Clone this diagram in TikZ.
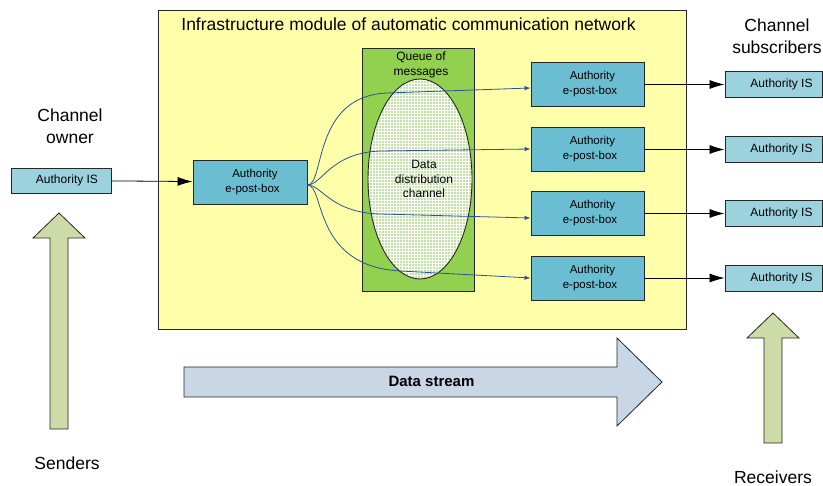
\documentclass[tikz,border=0pt]{standalone}
\usepackage{fontspec}
\setmainfont{Liberation Sans}
\usetikzlibrary{arrows.meta,shapes.geometric}

\definecolor{moduleyellow}{HTML}{FFFFAA}
\definecolor{queuegreen}{HTML}{92D050}
\definecolor{cellgreen}{HTML}{C4E2A6}
\definecolor{postblue}{HTML}{6BBED2}
\definecolor{isblue}{HTML}{9CD2DE}
\definecolor{streamblue}{HTML}{C8D6E6}
\definecolor{handgreen}{HTML}{CCDBA8}
\definecolor{flowblue}{HTML}{2A5590}
\definecolor{edgegray}{HTML}{262626}

\tikzset{
  bigtext/.style={font=\fontsize{17.5}{22}\selectfont, align=center, inner sep=0pt},
  postbox/.style={draw=edgegray, line width=0.9pt, fill=postblue,
    minimum width=113pt, minimum height=44pt, inner sep=0pt, align=center,
    font=\fontsize{11.5}{15}\selectfont},
  isbox/.style={draw=edgegray, line width=0.9pt, fill=isblue,
    minimum width=97pt, minimum height=26pt, inner sep=0pt,
    font=\fontsize{12}{14}\selectfont},
  feed/.style={draw=black, line width=0.8pt, -{Latex[length=15pt,width=9pt]}},
  flow/.style={draw=flowblue, line width=0.8pt, -{Latex[length=6pt,width=4.5pt]}},
  bigarrow/.style={draw=edgegray, line width=0.8pt, line join=miter},
}

\begin{document}
\begin{tikzpicture}[x=1pt,y=-1pt]
\useasboundingbox (0,0) rectangle (823,486);

% infrastructure module
\node[draw=edgegray, line width=0.9pt, fill=moduleyellow, minimum width=528pt,
      minimum height=319pt, inner sep=0pt] (module) at (422,169.5) {};
\node[bigtext] (title) at (408.5,24) {Infrastructure module of automatic communication network};

% queue of messages with the distribution channel
\node[draw=edgegray, line width=0.9pt, fill=queuegreen, minimum width=112pt,
      minimum height=243pt, inner sep=0pt] (queue) at (418,169.5) {};
\node[font=\fontsize{12}{15}\selectfont, align=center, inner sep=0pt] (qlabel) at (421,64.5) {Queue of\\messages};
\node[ellipse, draw=edgegray, line width=0.9pt, minimum width=104pt, minimum height=200pt,
      inner sep=0pt,
      path picture={
        \fill[cellgreen] (path picture bounding box.south west) rectangle (path picture bounding box.north east);
        \draw[white, line width=0.6pt, step=3pt] (path picture bounding box.south west) grid (path picture bounding box.north east);
      }] (channel) at (420,179) {};
\node[font=\fontsize{12}{14.5}\selectfont, align=center, inner sep=0pt] (chtext) at (424,179) {Data\\distribution\\channel};

% sender side
\node[bigtext] (owner) at (70,126) {Channel\\owner};
\node[isbox, minimum width=100pt, minimum height=25pt] (srcis) at (61,180.5) {\hspace*{12pt}Authority IS};
\node[postbox, minimum width=114pt] (srcbox) at (250,182) {\hspace*{10pt}Authority\\\hspace*{5pt}e-post-box};
\draw[feed] (srcis) -- (srcbox);

% receiver boxes inside the module
\foreach \i/\y in {1/84.5, 2/149.5, 3/213.5, 4/278} {
  \node[postbox] (dst\i) at (587.5,\y) {\hspace*{10pt}Authority\\\hspace*{5pt}e-post-box};
  \node[isbox] (dstis\i) at (773.5,\y) {\hspace*{16pt}Authority IS};
  \draw[feed] (dst\i) -- (dstis\i);
}
\node[bigtext] (subs) at (777,36) {Channel\\subscribers};

% distribution of messages through the channel
\coordinate (fan) at ([yshift=-3pt]srcbox.east);
\draw[flow] (fan) .. controls (325,185) and (312,96) .. (387,93) -- ([yshift=-3.5pt]dst1.west);
\draw[flow] (fan) .. controls (322,185) and (330,153) .. (380,151) -- ([yshift=0.5pt]dst2.west);
\draw[flow] (fan) .. controls (322,185) and (330,212.5) .. (380,214) -- ([yshift=-4.5pt]dst3.west);
\draw[flow] (fan) .. controls (325,185) and (312,266) .. (400,271) -- (dst4.west);

% data stream arrow
\draw[bigarrow, fill=streamblue] (184,367) -- (617,367) -- (617,338) -- (662,382)
  -- (617,426) -- (617,397) -- (184,397) -- cycle;
\node[font=\bfseries\fontsize{15}{18}\selectfont, inner sep=0pt] (stream) at (431.5,381) {Data stream};

% senders and receivers
\draw[bigarrow, fill=handgreen] (50,429) -- (50,238) -- (33,238) -- (59,213) -- (85,238)
  -- (68,238) -- (68,429) -- cycle;
\node[bigtext] (senders) at (67,463) {Senders};
\draw[bigarrow, fill=handgreen] (764,443) -- (764,338) -- (747,338) -- (773,313) -- (799,338)
  -- (782,338) -- (782,443) -- cycle;
\node[bigtext] (receivers) at (773,477) {Receivers};
\end{tikzpicture}
\end{document}
